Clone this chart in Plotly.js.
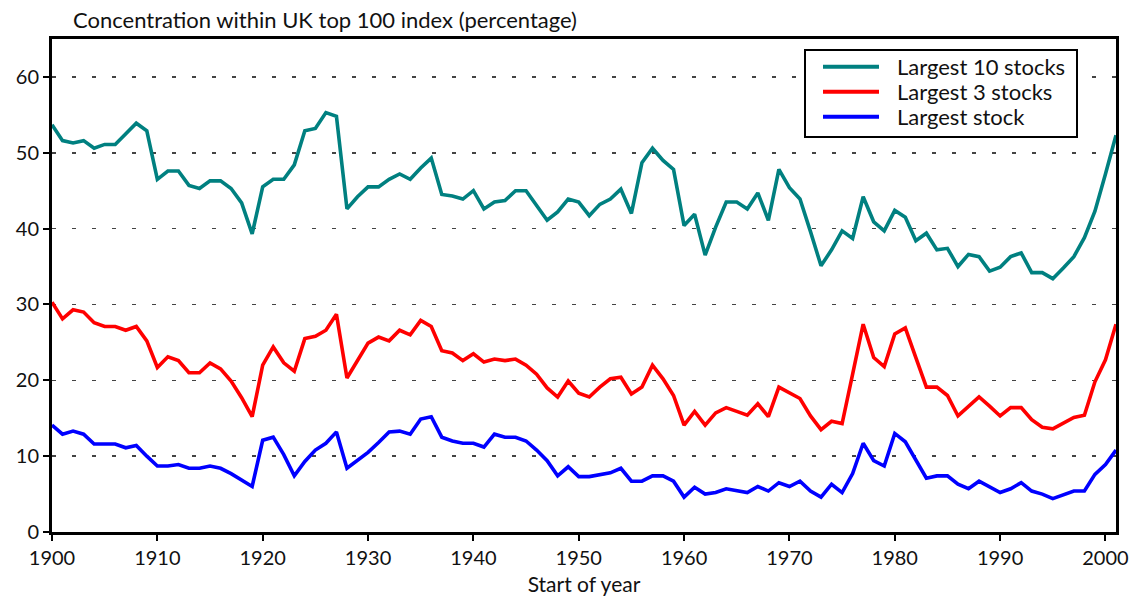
<!DOCTYPE html>
<html>
<head>
<meta charset="utf-8">
<script src="https://cdn.plot.ly/plotly-3.0.1.min.js"></script>
<style>
html,body{margin:0;padding:0;background:#fff;}
#chart{width:1133px;height:599px;}
</style>
</head>
<body>
<div id="chart"></div>
<script>
var years = [1900,1901,1902,1903,1904,1905,1906,1907,1908,1909,
1910,1911,1912,1913,1914,1915,1916,1917,1918,1919,
1920,1921,1922,1923,1924,1925,1926,1927,1928,1929,
1930,1931,1932,1933,1934,1935,1936,1937,1938,1939,
1940,1941,1942,1943,1944,1945,1946,1947,1948,1949,
1950,1951,1952,1953,1954,1955,1956,1957,1958,1959,
1960,1961,1962,1963,1964,1965,1966,1967,1968,1969,
1970,1971,1972,1973,1974,1975,1976,1977,1978,1979,
1980,1981,1982,1983,1984,1985,1986,1987,1988,1989,
1990,1991,1992,1993,1994,1995,1996,1997,1998,1999,
2000,2001];

var largest10 = [53.7,51.6,51.3,51.6,50.6,51.1,51.1,52.5,53.9,52.9,
46.5,47.6,47.6,45.7,45.3,46.3,46.3,45.3,43.4,39.3,
45.5,46.5,46.5,48.4,52.9,53.2,55.3,54.8,42.6,44.2,
45.5,45.5,46.5,47.2,46.5,48.0,49.3,44.5,44.3,43.9,
45.0,42.6,43.5,43.7,45.0,45.0,43.0,41.1,42.2,43.9,
43.5,41.7,43.2,43.9,45.2,42.0,48.7,50.6,49.0,47.8,
40.4,41.9,36.5,40.2,43.5,43.5,42.6,44.7,41.1,47.8,
45.4,43.9,39.6,35.1,37.2,39.7,38.7,44.2,40.9,39.7,
42.4,41.5,38.4,39.4,37.2,37.4,35.0,36.6,36.3,34.4,
34.9,36.3,36.8,34.2,34.2,33.4,34.8,36.3,38.8,42.3,
47.2,52.3];

var largest3 = [30.3,28.1,29.3,29.0,27.6,27.1,27.1,26.6,27.1,25.2,
21.7,23.1,22.6,21.0,21.0,22.3,21.5,19.9,17.7,15.2,
22.0,24.4,22.3,21.2,25.5,25.8,26.6,28.7,20.3,22.7,
24.9,25.7,25.2,26.6,26.0,27.9,27.1,23.9,23.6,22.6,
23.5,22.4,22.8,22.6,22.8,22.0,20.8,19.0,17.8,19.9,
18.3,17.8,19.1,20.2,20.4,18.2,19.1,22.0,20.2,18.0,
14.1,15.9,14.1,15.7,16.4,15.9,15.4,16.9,15.2,19.1,
18.4,17.6,15.3,13.5,14.6,14.3,20.8,27.4,23.0,21.8,
26.1,26.9,23.0,19.1,19.1,18.0,15.3,16.5,17.8,16.6,
15.3,16.4,16.4,14.8,13.8,13.6,14.4,15.1,15.4,19.8,
22.7,27.4];

var largest1 = [14.1,12.9,13.3,12.9,11.6,11.6,11.6,11.1,11.4,10.0,
8.7,8.7,8.9,8.4,8.4,8.7,8.4,7.7,6.9,6.0,
12.1,12.5,10.2,7.4,9.3,10.8,11.7,13.2,8.4,9.5,
10.5,11.8,13.2,13.3,12.9,14.9,15.2,12.5,12.0,11.7,
11.7,11.2,12.9,12.5,12.5,12.0,10.8,9.4,7.4,8.6,
7.3,7.3,7.6,7.8,8.4,6.7,6.7,7.4,7.4,6.7,
4.6,5.9,5.0,5.2,5.7,5.4,5.2,6.0,5.4,6.5,
6.0,6.7,5.4,4.6,6.3,5.2,7.7,11.7,9.4,8.7,
13.0,11.9,9.5,7.1,7.4,7.4,6.3,5.7,6.7,5.9,
5.2,5.7,6.5,5.4,5.0,4.4,4.9,5.4,5.4,7.6,
8.9,10.8];

var seriesNames = ["Largest 10 stocks","Largest 3 stocks","Largest stock"];
var seriesColors = ["#008080","#ff0000","#0000ff"];
var xTickVals = [1900,1910,1920,1930,1940,1950,1960,1970,1980,1990,2000];
var yTickVals = [0,10,20,30,40,50,60];

var FONT = "Lato, 'Open Sans', sans-serif";
var W = 1133, H = 599;
var M = {l: 52, r: 17, t: 39, b: 67};
var PW = W - M.l - M.r, PH = H - M.t - M.b;
function px2x(p){ return (p - M.l) / PW; }
function px2y(p){ return (H - M.b - p) / PH; }

var allSeries = [largest10, largest3, largest1];
var traces = allSeries.map(function(vals, i){
  return {
    x: years, y: vals, type: "scatter", mode: "lines",
    name: seriesNames[i], showlegend: false,
    line: {color: seriesColors[i], width: 3.6}
  };
});

// custom legend (box, line samples, labels)
var shapes = [{
  type: "rect", xref: "paper", yref: "paper",
  x0: px2x(805), x1: px2x(1077), y0: px2y(137), y1: px2y(50),
  line: {color: "#000", width: 2}, fillcolor: "#fff", layer: "above"
}];
var annotations = [];
seriesNames.forEach(function(name, i){
  var rowY = px2y(66.7 + 25 * i);
  shapes.push({
    type: "line", xref: "paper", yref: "paper",
    x0: px2x(823), x1: px2x(879), y0: rowY, y1: rowY,
    line: {color: seriesColors[i], width: 4}, layer: "above"
  });
  annotations.push({
    xref: "paper", yref: "paper", x: px2x(895), y: rowY,
    xanchor: "left", yanchor: "middle", showarrow: false,
    text: name, font: {family: FONT, size: 22, color: "#111"}
  });
});

var layout = {
  width: W, height: H,
  margin: M,
  paper_bgcolor: "#fff", plot_bgcolor: "#fff",
  font: {family: FONT, size: 20, color: "#111"},
  showlegend: false,
  shapes: shapes,
  annotations: annotations,
  xaxis: {
    range: [1900, 2001], tickvals: xTickVals, ticktext: xTickVals.map(String),
    ticks: "outside", ticklen: 6, tickwidth: 2, tickcolor: "#000",
    showline: true, linecolor: "#000", linewidth: 3, mirror: true,
    showgrid: false, zeroline: false,
    tickfont: {family: FONT, size: 20, color: "#111"},
    title: {text: "Start of year", font: {family: FONT, size: 21, color: "#111"}, standoff: 10}
  },
  yaxis: {
    range: [0, 65], tickvals: yTickVals, ticktext: yTickVals.map(String),
    ticks: "outside", ticklen: 6, tickwidth: 2, tickcolor: "#000",
    showline: true, linecolor: "#000", linewidth: 3, mirror: true,
    showgrid: true, gridcolor: "#444", gridwidth: 1.5, griddash: "4px,16px",
    zeroline: false,
    tickfont: {family: FONT, size: 20, color: "#111"}
  },
  title: {
    text: "Concentration within UK top 100 index (percentage)",
    font: {family: FONT, size: 22, color: "#111"},
    xref: "container", x: 73 / W, xanchor: "left",
    yref: "container", y: 1 - 20 / H, yanchor: "middle"
  }
};

Plotly.newPlot("chart", traces, layout, {displayModeBar: false, staticPlot: true});
</script>
</body>
</html>
